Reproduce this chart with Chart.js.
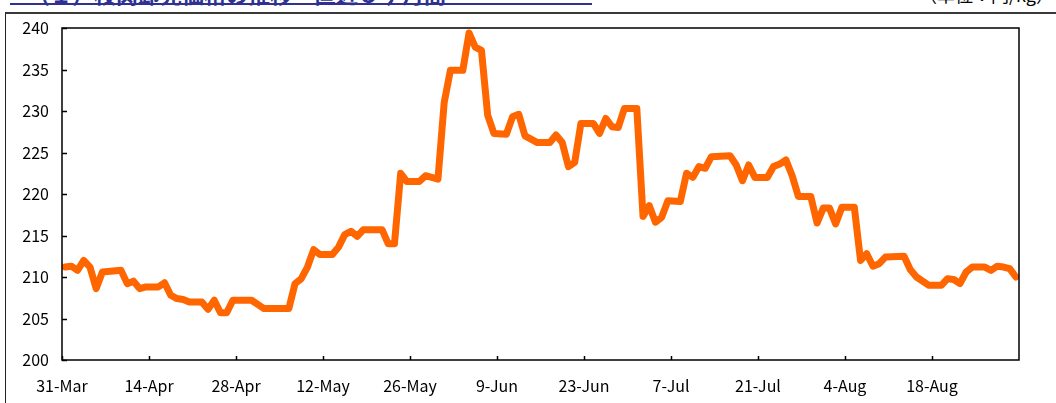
<!DOCTYPE html>
<html>
<head>
<meta charset="utf-8">
<script src="https://cdn.jsdelivr.net/npm/chart.js@4"></script>
<style>
  body { margin: 0; background: #fff; }
  #wrap { position: relative; width: 1056px; height: 403px; overflow: hidden; font-family: "Noto Sans CJK JP", sans-serif; }
  #frame { position: absolute; left: 5px; top: 12px; right: -2px; bottom: -2px; border-top: 2px solid #3a3a3a; border-left: 1.5px solid #222; }
  #title { position: absolute; left: 28px; top: -23px; font-size: 22px; font-weight: bold; color: #2e3192; white-space: nowrap; }
  #titleLine { position: absolute; left: 10px; top: 3px; width: 582px; height: 2px; background: #2e3192; }
  #unit { position: absolute; right: 2px; top: -19px; font-size: 18px; color: #000; white-space: nowrap; }
  canvas { position: absolute; left: 0; top: 0; }
</style>
</head>
<body>
<div id="wrap">
  <div id="frame"></div>
  <div id="title">（１）枝肉卸売価格の推移－直近５ヶ月間</div>
  <div id="titleLine"></div>
  <div id="unit">（単位：円/kg）</div>
  <canvas id="chart" width="1056" height="403"></canvas>
</div>
<script>
// days counted from 31-Mar, prices
let days = [
  0, 1, 2, 3, 4, 5, 6, 9, 10, 11, 12, 13, 15, 16, 17, 18, 19, 20, 22, 23,
  24, 25, 26, 27, 30, 31, 32, 36, 37, 38, 39, 40, 41, 43, 44, 45, 46, 47, 48, 51,
  52, 53, 54, 55, 57, 58, 59, 60, 61, 62, 64, 65, 66, 67, 68, 69, 71, 72, 73, 74,
  76, 78, 79, 80, 81, 82, 83, 85, 86, 87, 88, 89, 90, 92, 93, 94, 95, 96, 97, 99,
  100, 101, 102, 103, 104, 107, 108, 109, 110, 111, 113, 114, 115, 116, 117, 118, 120, 121, 122, 123,
  124, 125, 127, 128, 129, 130, 131, 132, 135, 136, 137, 139, 141, 142, 143, 144, 145, 146, 148, 149,
  150, 151, 152, 153
];
let prices = [
  211.2, 211.3, 210.8, 212.0, 211.2, 208.6, 210.6, 210.8, 209.2, 209.5, 208.6, 208.8, 208.8, 209.3, 207.8, 207.4, 207.3, 207.0, 207.0, 206.1,
  207.2, 205.7, 205.7, 207.2, 207.2, 206.7, 206.2, 206.2, 209.2, 209.8, 211.2, 213.3, 212.7, 212.7, 213.6, 215.1, 215.5, 214.9, 215.7, 215.7,
  214.0, 214.0, 222.5, 221.5, 221.5, 222.2, 222.0, 221.8, 231.0, 234.9, 234.9, 239.4, 237.7, 237.3, 229.5, 227.3, 227.2, 229.3, 229.6, 227.0,
  226.2, 226.2, 227.1, 226.2, 223.3, 223.8, 228.5, 228.5, 227.3, 229.1, 228.1, 228.0, 230.3, 230.3, 217.3, 218.6, 216.6, 217.2, 219.2, 219.1,
  222.5, 222.0, 223.3, 223.1, 224.5, 224.6, 223.5, 221.6, 223.5, 222.0, 222.0, 223.3, 223.6, 224.1, 222.2, 219.7, 219.7, 216.5, 218.3, 218.3,
  216.4, 218.4, 218.4, 212.0, 212.8, 211.3, 211.6, 212.4, 212.5, 210.9, 210.0, 209.0, 209.0, 209.8, 209.7, 209.2, 210.6, 211.2, 211.2, 210.8,
  211.3, 211.2, 211.0, 210.0
];
let tickLabels = ["31-Mar", "14-Apr", "28-Apr", "12-May", "26-May", "9-Jun", "23-Jun", "7-Jul", "21-Jul", "4-Aug", "18-Aug"];
let tickStep = 14;
let lastDay = 154;

// box round the plot area and short inside tick marks
const boxPlugin = {
  id: "box",
  afterDraw(chart) {
    let ctx = chart.ctx;
    let a = chart.chartArea;
    let x = chart.scales.x, y = chart.scales.y;
    ctx.save();
    ctx.strokeStyle = "#000";
    ctx.lineWidth = 1.5;
    ctx.strokeRect(a.left, a.top, a.right - a.left, a.bottom - a.top);
    ctx.beginPath();
    x.ticks.forEach(t => {
      let px = Math.round(x.getPixelForValue(t.value)) + 0.5;
      ctx.moveTo(px, a.bottom);
      ctx.lineTo(px, a.bottom - 4);
    });
    y.ticks.forEach(t => {
      let py = Math.round(y.getPixelForValue(t.value)) + 0.5;
      ctx.moveTo(a.left, py);
      ctx.lineTo(a.left + 5, py);
    });
    ctx.stroke();
    ctx.restore();
  }
};

const font = { family: '"Noto Sans CJK JP", sans-serif', size: 16 };

new Chart(document.getElementById("chart").getContext("2d"), {
  type: "line",
  data: {
    datasets: [{
      // points sit mid-day, like a date axis in the source sheet
      data: days.map((d, i) => ({ x: d + 0.5, y: prices[i] })),
      borderColor: "#ff6600",
      borderWidth: 7,
      borderJoinStyle: "round",
      borderCapStyle: "round",
      pointRadius: 0,
      tension: 0,
      fill: false
    }]
  },
  options: {
    responsive: false,
    animation: false,
    layout: { padding: { top: 28, right: 37, left: 0, bottom: 0 } },
    plugins: { legend: { display: false }, tooltip: { enabled: false } },
    scales: {
      x: {
        type: "linear",
        min: 0,
        max: lastDay,
        afterBuildTicks: s => { s.ticks = tickLabels.map((l, i) => ({ value: i * tickStep })); },
        afterFit: s => { s.height = 43; },
        grid: { display: false, drawTicks: false },
        border: { display: false },
        ticks: { callback: (v, i) => tickLabels[i], color: "#000", font: font, padding: 16, maxRotation: 0, autoSkip: false }
      },
      y: {
        min: 200,
        max: 240,
        afterFit: s => { s.width = 62; },
        grid: { display: false, drawTicks: false },
        border: { display: false },
        ticks: { stepSize: 5, color: "#000", font: font, padding: 13 }
      }
    }
  },
  plugins: [boxPlugin]
});
</script>
</body>
</html>
